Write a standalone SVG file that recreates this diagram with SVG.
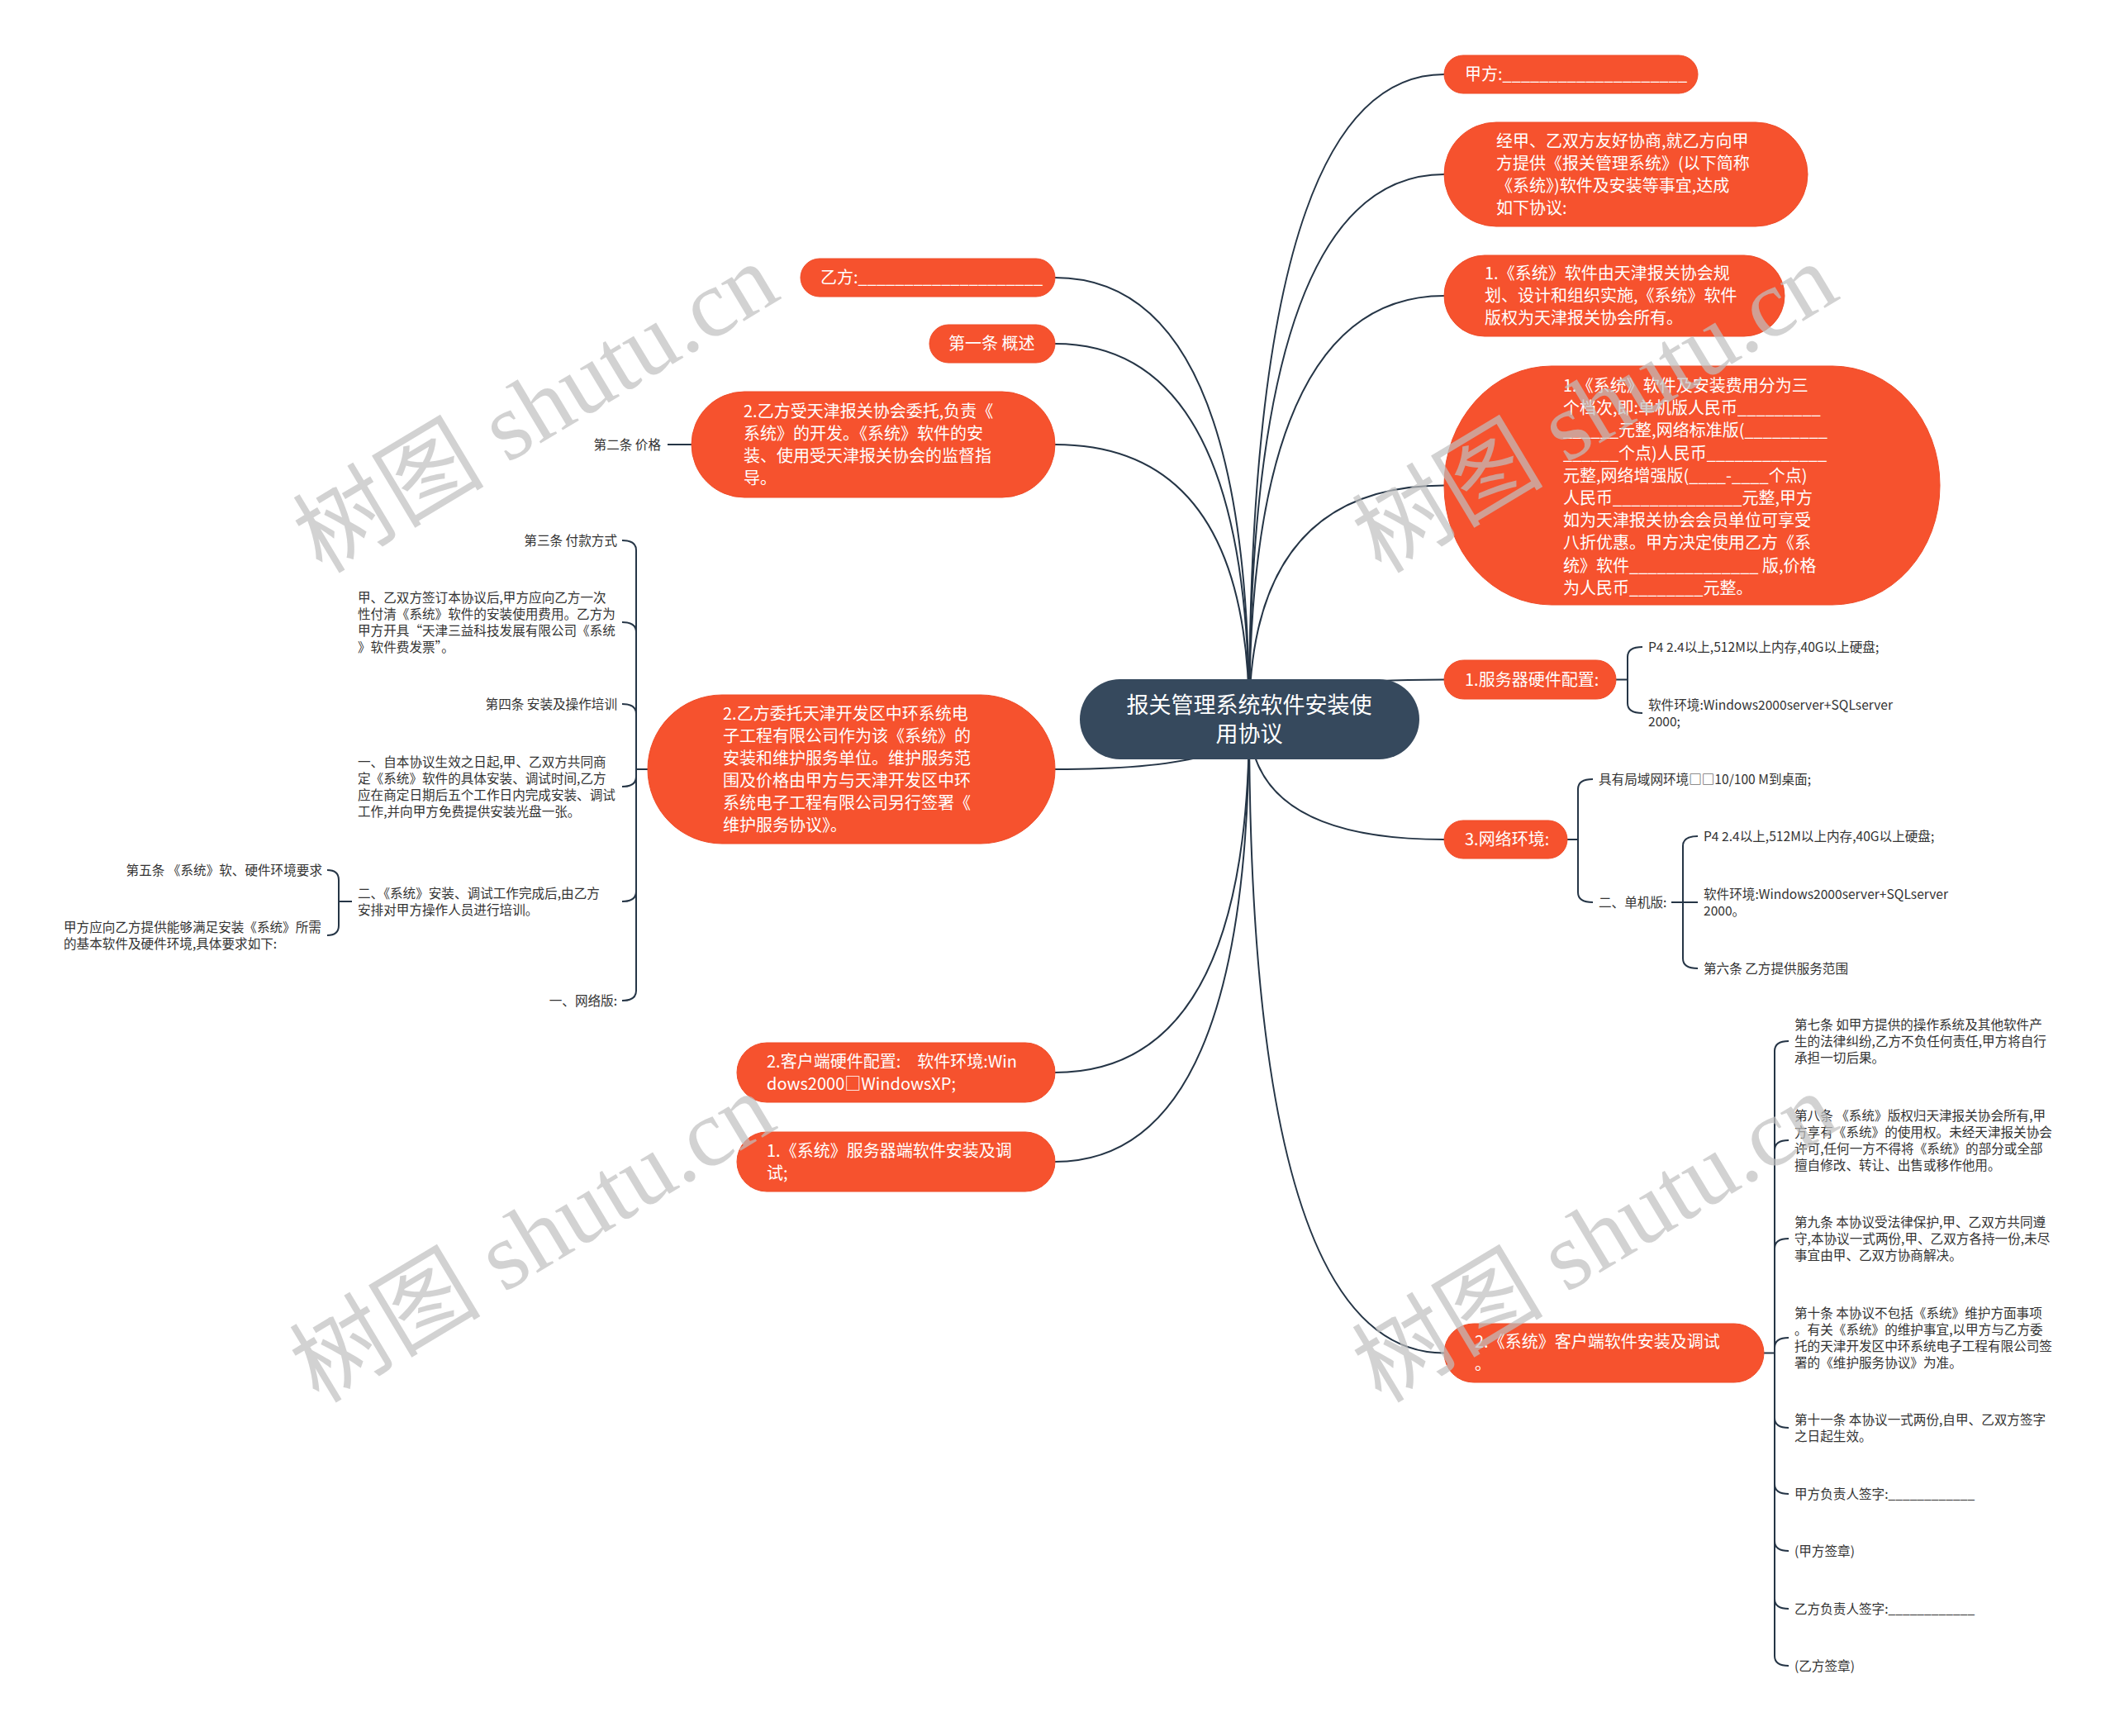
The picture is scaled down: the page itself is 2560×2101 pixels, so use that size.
<svg xmlns="http://www.w3.org/2000/svg" width="2560" height="2101" viewBox="0 0 2560 2101">
<style>
.box{fill:#f6522e;stroke:#ee4c29;stroke-width:1}
.root{fill:#36495d}
.bt{font-family:"Noto Sans CJK SC","Liberation Sans",sans-serif;font-size:20px;fill:#ffffff}
.rt{font-family:"Noto Sans CJK SC","Liberation Sans",sans-serif;font-size:27px;fill:#ffffff}
.st{font-family:"Noto Sans CJK SC","Liberation Sans",sans-serif;font-size:15.6px;fill:#333333}
.ln{fill:none;stroke:#253546;stroke-width:2}
.wm{font-family:"Liberation Serif","Noto Sans CJK SC",serif;font-size:116px;fill:#c0c0c0;opacity:0.7}
</style>
<rect width="2560" height="2101" fill="#ffffff"/>
<g id="connectors" class="ln">
<path d="M1512,870 Q1512,90 1748,90"/>
<path d="M1512,870 Q1512,211 1748,211"/>
<path d="M1512,870 Q1512,358 1748,358"/>
<path d="M1512,870 Q1512,587.5 1748,587.5"/>
<path d="M1512,870 Q1512,822.5 1748,822.5"/>
<path d="M1512,870 Q1512,1016 1748,1016"/>
<path d="M1512,870 Q1512,1637.5 1748,1637.5"/>
<path d="M1512,870 Q1512,336 1277,336"/>
<path d="M1512,870 Q1512,416 1277,416"/>
<path d="M1512,870 Q1512,538 1277,538"/>
<path d="M1512,870 Q1512,931 1277,931"/>
<path d="M1512,870 Q1512,1298 1277,1298"/>
<path d="M1512,870 Q1512,1406 1277,1406"/>
<path d="M1956,822.5 H1970 M1970,822.5 V795 Q1970,783 1988,783 M1970,822.5 V851 Q1970,863 1988,863"/>
<path d="M1897,1016 H1910 M1910,1016 V955 Q1910,943 1928,943 M1910,1016 V1080 Q1910,1092 1928,1092"/>
<path d="M2023,1092 H2055 M2037,1092 V1024 Q2037,1012 2055,1012 M2037,1092 V1160 Q2037,1172 2055,1172"/>
<path d="M2135,1637.5 H2148 M2148,1637.5 V1272 Q2148,1260 2165,1260 M2148,1637.5 V1392 Q2148,1380 2165,1380 M2148,1637.5 V1511 Q2148,1499 2165,1499 M2148,1637.5 V1631 Q2148,1619 2165,1619 M2148,1637.5 V1716 Q2148,1728 2165,1728 M2148,1637.5 V1796 Q2148,1808 2165,1808 M2148,1637.5 V1865 Q2148,1877 2165,1877 M2148,1637.5 V1935 Q2148,1947 2165,1947 M2148,1637.5 V2004 Q2148,2016 2165,2016"/>
<path d="M837,538 H808"/>
<path d="M784,931 H770 M770,931 V666 Q770,654 753,654 M770,931 V765 Q770,753 753,753 M770,931 V864 Q770,852 753,852 M770,931 V940 Q770,952 753,952 M770,931 V1079 Q770,1091 753,1091 M770,931 V1199 Q770,1211 753,1211"/>
<path d="M426,1091 H410 M410,1091 V1065 Q410,1053 396,1053 M410,1091 V1120 Q410,1132 396,1132"/>
</g>
<g id="n-jiafang"><rect class="box" x="1748" y="67" width="307" height="46" rx="23"/><text class="bt" x="1773" y="97">甲方:____________________</text></g>
<g id="n-intro"><rect class="box" x="1748" y="148" width="440" height="126" rx="63"/><text class="bt" x="1811" y="178"><tspan x="1811">经甲、乙双方友好协商,就乙方向甲</tspan><tspan x="1811" dy="27">方提供《报关管理系统》(以下简称</tspan><tspan x="1811" dy="27">《系统》)软件及安装等事宜,达成</tspan><tspan x="1811" dy="27">如下协议:</tspan></text></g>
<g id="n-copyright"><rect class="box" x="1748" y="309" width="412" height="98" rx="49"/><text class="bt" x="1797" y="338"><tspan x="1797">1.《系统》软件由天津报关协会规</tspan><tspan x="1797" dy="27">划、设计和组织实施,《系统》软件</tspan><tspan x="1797" dy="27">版权为天津报关协会所有。</tspan></text></g>
<g id="n-price"><rect class="box" x="1748" y="443" width="600" height="289" rx="130" ry="144"/><text class="bt" x="1892" y="474"><tspan x="1892">1.《系统》软件及安装费用分为三</tspan><tspan x="1892" dy="27.2">个档次,即:单机版人民币_________</tspan><tspan x="1892" dy="27.2">______元整,网络标准版(_________</tspan><tspan x="1892" dy="27.2">______个点)人民币_____________</tspan><tspan x="1892" dy="27.2">元整,网络增强版(____-____个点)</tspan><tspan x="1892" dy="27.2">人民币______________元整,甲方</tspan><tspan x="1892" dy="27.2">如为天津报关协会会员单位可享受</tspan><tspan x="1892" dy="27.2">八折优惠。甲方决定使用乙方《系</tspan><tspan x="1892" dy="27.2">统》软件______________ 版,价格</tspan><tspan x="1892" dy="27.2">为人民币________元整。</tspan></text></g>
<g id="n-server-hw"><rect class="box" x="1748" y="799" width="208" height="47" rx="23.5"/><text class="bt" x="1773" y="830">1.服务器硬件配置:</text></g>
<g id="n-server-hw-1"><text class="st" x="1995" y="789">P4 2.4以上,512M以上内存,40G以上硬盘;</text></g>
<g id="n-server-hw-2"><text class="st" x="1995" y="859"><tspan x="1995">软件环境:Windows2000server+SQLserver</tspan><tspan x="1995" dy="20">2000;</tspan></text></g>
<g id="n-network"><rect class="box" x="1748" y="993" width="149" height="46" rx="23"/><text class="bt" x="1773" y="1023">3.网络环境:</text></g>
<g id="n-lan"><text class="st" x="1935" y="949">具有局域网环境□□10/100 M到桌面;</text></g>
<g id="n-single"><text class="st" x="1935" y="1098">二、单机版:</text></g>
<g id="n-single-1"><text class="st" x="2062" y="1018">P4 2.4以上,512M以上内存,40G以上硬盘;</text></g>
<g id="n-single-2"><text class="st" x="2062" y="1088"><tspan x="2062">软件环境:Windows2000server+SQLserver</tspan><tspan x="2062" dy="20">2000。</tspan></text></g>
<g id="n-art6"><text class="st" x="2062" y="1178">第六条 乙方提供服务范围</text></g>
<g id="n-client-sw"><rect class="box" x="1748" y="1602" width="387" height="71" rx="35.5"/><text class="bt" x="1785" y="1631"><tspan x="1785">2.《系统》客户端软件安装及调试</tspan><tspan x="1785" dy="27">。</tspan></text></g>
<g id="n-art7"><text class="st" x="2172" y="1246"><tspan x="2172">第七条 如甲方提供的操作系统及其他软件产</tspan><tspan x="2172" dy="20">生的法律纠纷,乙方不负任何责任,甲方将自行</tspan><tspan x="2172" dy="20">承担一切后果。</tspan></text></g>
<g id="n-art8"><text class="st" x="2172" y="1356"><tspan x="2172">第八条 《系统》版权归天津报关协会所有,甲</tspan><tspan x="2172" dy="20">方享有《系统》的使用权。未经天津报关协会</tspan><tspan x="2172" dy="20">许可,任何一方不得将《系统》的部分或全部</tspan><tspan x="2172" dy="20">擅自修改、转让、出售或移作他用。</tspan></text></g>
<g id="n-art9"><text class="st" x="2172" y="1485"><tspan x="2172">第九条 本协议受法律保护,甲、乙双方共同遵</tspan><tspan x="2172" dy="20">守,本协议一式两份,甲、乙双方各持一份,未尽</tspan><tspan x="2172" dy="20">事宜由甲、乙双方协商解决。</tspan></text></g>
<g id="n-art10"><text class="st" x="2172" y="1595"><tspan x="2172">第十条 本协议不包括《系统》维护方面事项</tspan><tspan x="2172" dy="20">。有关《系统》的维护事宜,以甲方与乙方委</tspan><tspan x="2172" dy="20">托的天津开发区中环系统电子工程有限公司签</tspan><tspan x="2172" dy="20">署的《维护服务协议》为准。</tspan></text></g>
<g id="n-art11"><text class="st" x="2172" y="1724"><tspan x="2172">第十一条 本协议一式两份,自甲、乙双方签字</tspan><tspan x="2172" dy="20">之日起生效。</tspan></text></g>
<g id="n-sign-a"><text class="st" x="2172" y="1814">甲方负责人签字:____________</text></g>
<g id="n-seal-a"><text class="st" x="2172" y="1883">(甲方签章)</text></g>
<g id="n-sign-b"><text class="st" x="2172" y="1953">乙方负责人签字:____________</text></g>
<g id="n-seal-b"><text class="st" x="2172" y="2022">(乙方签章)</text></g>
<g id="n-yifang"><rect class="box" x="969" y="313" width="308" height="46" rx="23"/><text class="bt" x="993" y="343">乙方:____________________</text></g>
<g id="n-art1"><rect class="box" x="1125" y="393" width="152" height="46" rx="23"/><text class="bt" x="1148" y="423">第一条 概述</text></g>
<g id="n-dev"><rect class="box" x="837" y="474" width="440" height="128" rx="64"/><text class="bt" x="900" y="505"><tspan x="900">2.乙方受天津报关协会委托,负责《</tspan><tspan x="900" dy="27">系统》的开发。《系统》软件的安</tspan><tspan x="900" dy="27">装、使用受天津报关协会的监督指</tspan><tspan x="900" dy="27">导。</tspan></text></g>
<g id="n-art2"><text class="st" x="800" y="544" text-anchor="end">第二条 价格</text></g>
<g id="n-maint"><rect class="box" x="784" y="841" width="493" height="180" rx="90"/><text class="bt" x="875" y="871"><tspan x="875">2.乙方委托天津开发区中环系统电</tspan><tspan x="875" dy="27">子工程有限公司作为该《系统》的</tspan><tspan x="875" dy="27">安装和维护服务单位。维护服务范</tspan><tspan x="875" dy="27">围及价格由甲方与天津开发区中环</tspan><tspan x="875" dy="27">系统电子工程有限公司另行签署《</tspan><tspan x="875" dy="27">维护服务协议》。</tspan></text></g>
<g id="n-art3"><text class="st" x="747" y="660" text-anchor="end">第三条 付款方式</text></g>
<g id="n-pay"><text class="st" x="433" y="729"><tspan x="433">甲、乙双方签订本协议后,甲方应向乙方一次</tspan><tspan x="433" dy="20">性付清《系统》软件的安装使用费用。乙方为</tspan><tspan x="433" dy="20">甲方开具“天津三益科技发展有限公司《系统</tspan><tspan x="433" dy="20">》软件费发票”。</tspan></text></g>
<g id="n-art4"><text class="st" x="747" y="858" text-anchor="end">第四条 安装及操作培训</text></g>
<g id="n-install"><text class="st" x="433" y="928"><tspan x="433">一、自本协议生效之日起,甲、乙双方共同商</tspan><tspan x="433" dy="20">定《系统》软件的具体安装、调试时间,乙方</tspan><tspan x="433" dy="20">应在商定日期后五个工作日内完成安装、调试</tspan><tspan x="433" dy="20">工作,并向甲方免费提供安装光盘一张。</tspan></text></g>
<g id="n-train"><text class="st" x="433" y="1087"><tspan x="433">二、《系统》安装、调试工作完成后,由乙方</tspan><tspan x="433" dy="20">安排对甲方操作人员进行培训。</tspan></text></g>
<g id="n-art5"><text class="st" x="390" y="1059" text-anchor="end">第五条 《系统》软、硬件环境要求</text></g>
<g id="n-env"><text class="st" x="77" y="1128"><tspan x="77">甲方应向乙方提供能够满足安装《系统》所需</tspan><tspan x="77" dy="20">的基本软件及硬件环境,具体要求如下:</tspan></text></g>
<g id="n-netver"><text class="st" x="747" y="1217" text-anchor="end">一、网络版:</text></g>
<g id="n-client-hw"><rect class="box" x="892" y="1262" width="385" height="72" rx="36"/><text class="bt" x="928" y="1292"><tspan x="928">2.客户端硬件配置:　软件环境:Win</tspan><tspan x="928" dy="27">dows2000□WindowsXP;</tspan></text></g>
<g id="n-server-sw"><rect class="box" x="892" y="1370" width="385" height="72" rx="36"/><text class="bt" x="928" y="1400"><tspan x="928">1.《系统》服务器端软件安装及调</tspan><tspan x="928" dy="27">试;</tspan></text></g>
<g id="root"><rect class="root" x="1307" y="822" width="411" height="97" rx="48.5"/><text class="rt" x="1512" y="863" text-anchor="middle"><tspan x="1512">报关管理系统软件安装使</tspan><tspan x="1512" dy="35">用协议</tspan></text></g>
<g id="watermarks">
<text class="wm" transform="translate(655,505) rotate(-31)" text-anchor="middle" dominant-baseline="middle">树图 shutu.cn</text>
<text class="wm" transform="translate(1937,505) rotate(-31)" text-anchor="middle" dominant-baseline="middle">树图 shutu.cn</text>
<text class="wm" transform="translate(651,1509) rotate(-31)" text-anchor="middle" dominant-baseline="middle">树图 shutu.cn</text>
<text class="wm" transform="translate(1937,1509) rotate(-31)" text-anchor="middle" dominant-baseline="middle">树图 shutu.cn</text>
</g>
</svg>
